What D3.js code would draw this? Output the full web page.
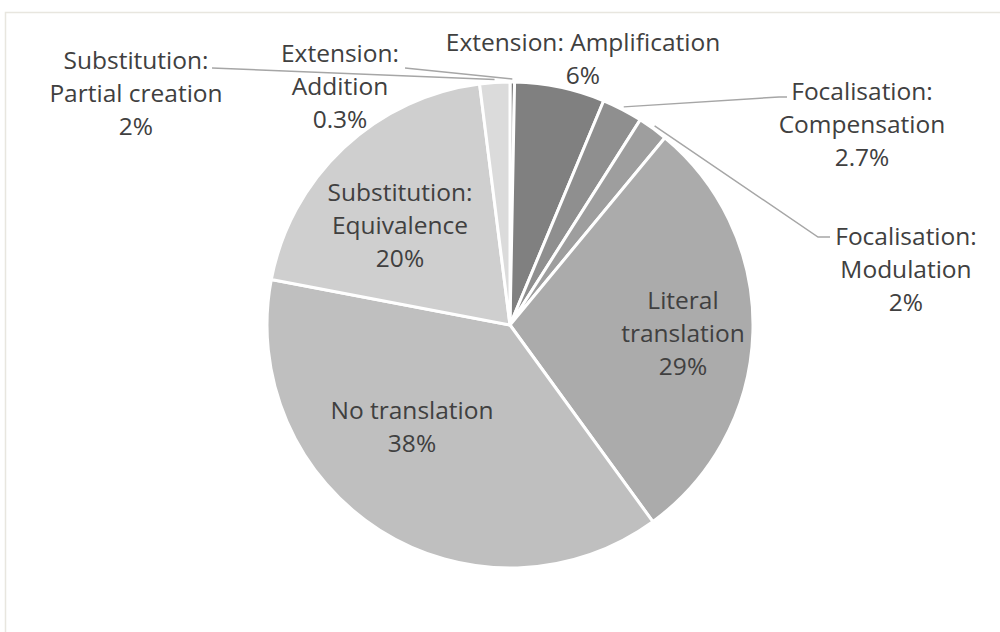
<!DOCTYPE html>
<html>
<head>
<meta charset="utf-8">
<script src="https://cdn.jsdelivr.net/npm/d3@7/dist/d3.min.js"></script>
<style>
  html, body { margin: 0; padding: 0; background: #ffffff; }
  svg { display: block; }
</style>
</head>
<body>
<svg id="chart" width="1000" height="632"></svg>
<script>
// ---- data ----
const categories = [
  "Extension: Addition",
  "Extension: Amplification",
  "Focalisation: Compensation",
  "Focalisation: Modulation",
  "Literal translation",
  "No translation",
  "Substitution: Equivalence",
  "Substitution: Partial creation"
];
const values = [0.3, 6, 2.7, 2, 29, 38, 20, 2];
const valueLabels = ["0.3%", "6%", "2.7%", "2%", "29%", "38%", "20%", "2%"];
const labelLines = [
  ["Extension:", "Addition"],
  ["Extension: Amplification"],
  ["Focalisation:", "Compensation"],
  ["Focalisation:", "Modulation"],
  ["Literal", "translation"],
  ["No translation"],
  ["Substitution:", "Equivalence"],
  ["Substitution:", "Partial creation"]
];

// ---- styling / layout ----
const colors = ["#7a7a7a", "#808080", "#8f8f8f", "#9e9e9e", "#ababab", "#bfbfbf", "#cfcfcf", "#dbdbdb"];
const labelLayout = [
  { x: 340, y: 62, lead: [405, 68] },
  { x: 583, y: 51 },
  { x: 862, y: 100, lead: [787, 97], elbow: [779, 97] },
  { x: 906, y: 245, lead: [830, 237], elbow: [818, 237] },
  { x: 683, y: 309 },
  { x: 412, y: 419 },
  { x: 400, y: 201 },
  { x: 136, y: 69, lead: [212, 68] }
];
const lineH = 33;
const cx = 510, cy = 325, R = 243;

const svg = d3.select("#chart");

// frame
svg.append("rect")
  .attr("x", 5.5).attr("y", 12.5)
  .attr("width", 1100).attr("height", 700)
  .attr("fill", "#ffffff")
  .attr("stroke", "#e8e6df").attr("stroke-width", 1.5);

const g = svg.append("g").attr("transform", `translate(${cx},${cy})`);

const pie = d3.pie().sort(null).value(d => d).startAngle(0).endAngle(2 * Math.PI);
const arcs = pie(values);
const arc = d3.arc().innerRadius(0).outerRadius(R);

g.selectAll("path.slice")
  .data(arcs)
  .join("path")
  .attr("class", "slice")
  .attr("d", arc)
  .attr("fill", (d, i) => colors[i])
  .attr("stroke", "#ffffff")
  .attr("stroke-width", 3)
  .attr("stroke-linejoin", "round");

// leader lines
arcs.forEach((d, i) => {
  const L = labelLayout[i];
  if (!L.lead) return;
  const a = (d.startAngle + d.endAngle) / 2;
  const r = R + 3;
  const sx = cx + r * Math.sin(a), sy = cy - r * Math.cos(a);
  const pts = [[sx, sy]];
  if (L.elbow) pts.push(L.elbow);
  pts.push(L.lead);
  svg.append("path")
    .attr("d", d3.line()(pts))
    .attr("fill", "none")
    .attr("stroke", "#a6a6a6")
    .attr("stroke-width", 1.5);
});

// labels
const font = "'Open Sans', 'Noto Sans', sans-serif";
arcs.forEach((d, i) => {
  const L = labelLayout[i];
  const lines = labelLines[i].concat([valueLabels[i]]);
  const t = svg.append("text")
    .attr("text-anchor", "middle")
    .attr("font-family", font)
    .attr("font-size", 24.5)
    .attr("fill", "#404040");
  lines.forEach((s, k) => {
    t.append("tspan").attr("x", L.x).attr("y", L.y + k * lineH).text(s);
  });
});
</script>
</body>
</html>
